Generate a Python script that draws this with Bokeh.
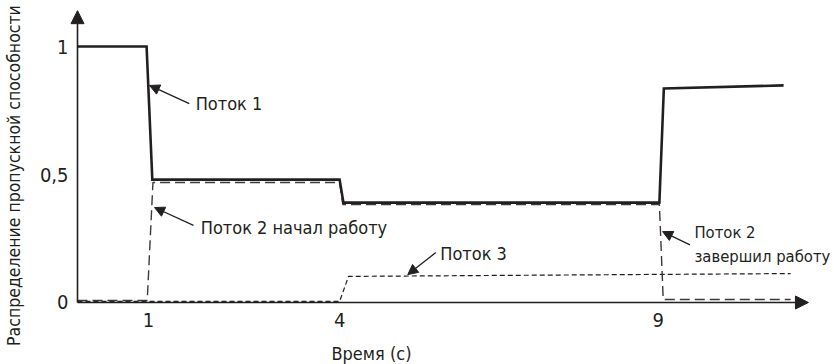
import math
from bokeh.plotting import figure
from bokeh.models import Arrow, NormalHead, Label, Range1d
from bokeh.embed import file_html
from bokeh.resources import INLINE

FONT = "DejaVu Sans Condensed"
INK = "#231f20"

# ---- data ----
flow1_x = [-0.115, 0.97, 1.06, 4.0, 4.06, 9.02, 9.09, 10.97]
flow1_y = [1.0, 1.0, 0.48, 0.48, 0.39, 0.39, 0.836, 0.848]

flow2_x = [-0.115, 0.98, 1.07, 4.0, 4.05, 9.02, 9.08, 11.08]
flow2_y = [0.008, 0.008, 0.469, 0.469, 0.383, 0.383, 0.012, 0.012]

flow3_x = [-0.115, 4.0, 4.14, 11.08]
flow3_y = [0.004, 0.004, 0.102, 0.113]

x_ticks = [1, 4, 9]
x_tick_labels = ["1", "4", "9"]
y_ticks = [0, 0.5, 1]
y_tick_labels = ["0", "0,5", "1"]

x_title = "Время (с)"
y_title = "Распределение пропускной способности"

# annotations: (text lines, font px, text x, text y, arrow tail x, tail y, arrow tip x, tip y)
notes = [
    (["Поток 1"], 18, 1.74, 0.777, 1.64, 0.777, 1.016, 0.848),
    (["Поток 2 начал работу"], 18, 1.82, 0.293, 1.706, 0.301, 1.094, 0.371),
    (["Поток 3"], 18, 5.58, 0.191, 5.51, 0.195, 5.07, 0.109),
    (["Поток 2", "завершил работу"], 16.5, 9.57, 0.272, 9.50, 0.225, 9.07, 0.277),
]

# plotting area spans the whole canvas; axes are drawn by hand
X0, X1 = -1.3234, 11.769
Y0, Y1 = -0.2422, 1.1797
AX_X = -0.1146           # position of the vertical axis
AX_XEND, AX_YEND = 11.36, 1.14

p = figure(width=834, height=364, output_backend="svg", toolbar_location=None,
           x_range=Range1d(X0, X1), y_range=Range1d(Y0, Y1),
           min_border=0, x_axis_type=None, y_axis_type=None)
p.outline_line_color = None
p.grid.visible = False
p.background_fill_color = "white"

# series
p.line(flow3_x, flow3_y, line_color=INK, line_width=1.2, line_dash="5 3")
p.line(flow2_x, flow2_y, line_color="#3a3a3a", line_width=1.4, line_dash="10 5")
p.line(flow1_x, flow1_y, line_color=INK, line_width=2.6, line_join="miter")

# axes with arrow heads
p.add_layout(Arrow(x_start=AX_X, y_start=0, x_end=AX_XEND, y_end=0,
                   line_color=INK, line_width=1.6,
                   end=NormalHead(size=13, fill_color=INK, line_color=INK)))
p.add_layout(Arrow(x_start=AX_X, y_start=0, x_end=AX_X, y_end=AX_YEND,
                   line_color=INK, line_width=1.6,
                   end=NormalHead(size=13, fill_color=INK, line_color=INK)))

# tick labels
for t, s in zip(x_ticks, x_tick_labels):
    p.add_layout(Label(x=t, y=0, y_offset=-18, text=s, text_font=FONT,
                       text_font_size="20px", text_color=INK,
                       text_align="center", text_baseline="middle"))
for t, s in zip(y_ticks, y_tick_labels):
    p.add_layout(Label(x=AX_X, y=t, x_offset=-9, text=s, text_font=FONT,
                       text_font_size="20px", text_color=INK,
                       text_align="right", text_baseline="middle"))

# annotations
for lines, fs, tx, ty, ax0, ay0, ax1, ay1 in notes:
    p.add_layout(Arrow(x_start=ax0, y_start=ay0, x_end=ax1, y_end=ay1,
                       line_color=INK, line_width=1.3,
                       end=NormalHead(size=10, fill_color=INK, line_color=INK)))
    for i, t in enumerate(lines):
        p.add_layout(Label(x=tx, y=ty - i * 0.092, text=t, text_font=FONT,
                           text_font_size=f"{fs}px", text_color=INK,
                           text_align="left", text_baseline="middle"))

# axis titles
p.add_layout(Label(x=4.50, y=-0.199, text=x_title, text_font=FONT,
                   text_font_size="18px", text_color=INK,
                   text_align="center", text_baseline="middle"))
p.add_layout(Label(x=-1.119, y=0.496, text=y_title, text_font=FONT,
                   text_font_size="17.5px", text_color=INK, angle=math.pi / 2,
                   text_align="center", text_baseline="middle"))

open("out.html", "w").write(file_html(p, INLINE))
